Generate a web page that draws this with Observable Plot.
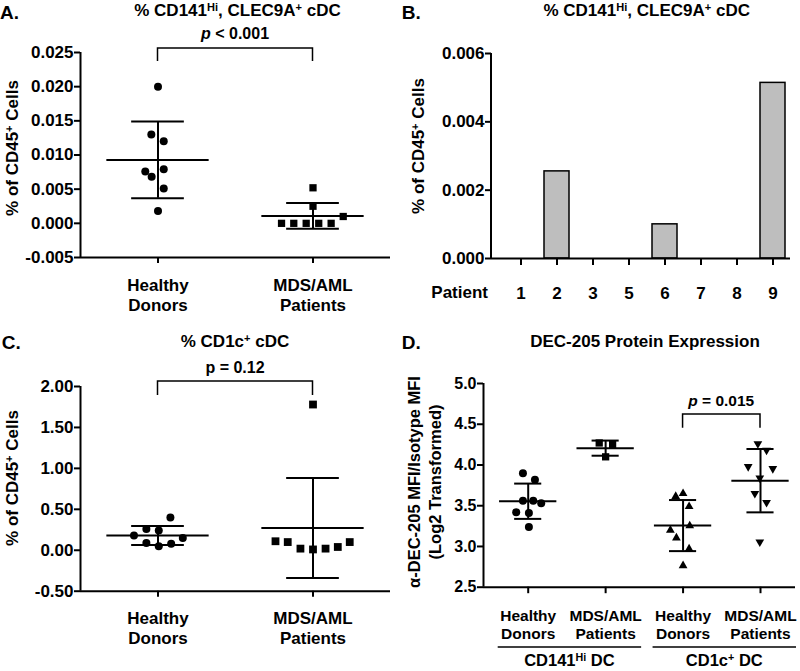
<!DOCTYPE html>
<html>
<head>
<meta charset="utf-8">
<script src="https://cdn.jsdelivr.net/npm/d3@7"></script>
<script src="https://cdn.jsdelivr.net/npm/@observablehq/plot@0.6"></script>
<style>
  body { margin: 0; background: #fff; }
  #fig { position: relative; width: 800px; height: 671px; background: #fff; }
</style>
</head>
<body>
<div id="fig"></div>
<script>
const FONT = '"Liberation Sans", Arial, Helvetica, sans-serif';

// ---------------- Panel A data ----------------
const groupLabelsAC = ["Healthy\nDonors", "MDS/AML\nPatients"];
const aTicks = [-0.005, 0, 0.005, 0.010, 0.015, 0.020, 0.025];
const aHealthy = [0.0200, 0.0130, 0.0120, 0.0076, 0.0068, 0.0079, 0.0051, 0.0018];
const aHealthyJitter = [0, -0.043, 0.037, -0.082, -0.041, 0.037, 0.037, 0];
const aPatients = [0.0052, 0.0025, 0.0010, 0, 0, 0, 0, 0];
const aPatientsJitter = [0, 0, 0.195, -0.203, -0.124, -0.044, 0.037, 0.117];

// ---------------- Panel B data ----------------
const bPatients = ["1", "2", "3", "5", "6", "7", "8", "9"];
const bValues = [0, 0.00255, 0, 0, 0.00100, 0, 0, 0.00514];
const bTicks = [0, 0.002, 0.004, 0.006];

// ---------------- Panel C data ----------------
const cTicks = [-0.5, 0, 0.5, 1, 1.5, 2];
const cHealthy = [0.40, 0.26, 0.24, 0.18, 0.15, 0.09, 0.08, 0.05];
const cHealthyJitter = [0.08, -0.075, 0.005, -0.155, 0.16, -0.075, 0.085, 0.005];
const cPatients = [1.78, 0.11, 0.10, 0.02, 0.01, 0.02, 0.04, 0.10];
const cPatientsJitter = [0, -0.242, -0.163, -0.081, 0, 0.081, 0.16, 0.237];

// ---------------- Panel D data ----------------
const dLabels = ["Healthy\nDonors", "MDS/AML\nPatients", "Healthy\nDonors", "MDS/AML\nPatients"];
const dTicks = [2.5, 3.0, 3.5, 4.0, 4.5, 5.0];
const d141Healthy = [3.90, 3.82, 3.56, 3.56, 3.53, 3.42, 3.41, 3.24];
const d141HealthyJitter = [-0.068, 0.087, -0.068, 0.065, 0.168, -0.155, 0.009, 0.009];
const d141Patients = [4.27, 4.25, 4.10];
const d141PatientsJitter = [-0.083, 0.09, 0];
const d1cHealthy = [3.65, 3.615, 3.49, 3.255, 3.20, 3.105, 2.97, 2.765];
const d1cHealthyJitter = [0, -0.095, 0.078, 0.086, -0.164, -0.086, 0.078, 0];
const d1cPatients = [4.26, 4.18, 3.98, 3.955, 3.84, 3.65, 3.54, 3.055];
const d1cPatientsJitter = [-0.034, 0.078, -0.159, 0.159, -0.009, -0.073, 0.078, -0.009];
const dCellTypes = ["CD141^{Hi} DC", "CD1c^{+} DC"];

// ---------------- helpers ----------------
const fig = document.getElementById("fig");
const baseStyle = {fontFamily: FONT, fontSize: "17px", fontWeight: "bold", color: "black", background: "white", overflow: "visible"};

const triangleDown = {
  draw(context, size) {
    const y = Math.sqrt(size / (3 * Math.sqrt(3)));
    context.moveTo(0, 2 * y);
    context.lineTo(Math.sqrt(3) * y, -y);
    context.lineTo(-Math.sqrt(3) * y, -y);
    context.closePath();
  }
};

function richText(parent, str, fs) {
  const text = parent.append("text");
  const parts = str.split(/(\^\{[^}]*\}|\*[^*]+\*)/).filter(s => s.length);
  let pending = 0;
  for (const p of parts) {
    const t = text.append("tspan");
    if (p.startsWith("^{")) {
      t.text(p.slice(2, -1)).attr("font-size", fs * 0.65).attr("dy", -0.3 * fs);
      pending = 0.3 * fs;
    } else {
      if (pending) { t.attr("dy", pending); pending = 0; }
      if (p.startsWith("*")) t.attr("font-style", "italic").text(p.slice(1, -1));
      else t.text(p);
    }
  }
  return text;
}
function label(g, str, x, y, fs, anchor = "middle", rotate = false) {
  const t = richText(g, str, fs).attr("font-size", fs).attr("text-anchor", anchor);
  if (rotate) t.attr("transform", `translate(${x},${y}) rotate(-90)`).attr("y", 0.36 * fs);
  else t.attr("x", x).attr("y", y + 0.36 * fs);
  return t;
}
function line(g, pts, w) {
  g.append("path").attr("d", d3.line()(pts)).attr("fill", "none").attr("stroke", "black").attr("stroke-width", w);
}
function annotations(fn) {
  return (index, scales) => {
    const g = d3.create("svg:g").attr("fill", "black").attr("font-weight", "bold").attr("font-family", FONT);
    fn(g, scales);
    return g.node();
  };
}
function scatterMarks(groups, meanHW, capHW) {
  const stats = groups.map(g => ({x: g.pos, mean: d3.mean(g.values), sd: d3.deviation(g.values)}));
  const lw = 2;
  return [
    Plot.ruleX(stats, {x: "x", y1: d => d.mean - d.sd, y2: d => d.mean + d.sd, strokeWidth: lw}),
    Plot.ruleY(stats, {y: "mean", x1: d => d.x - meanHW, x2: d => d.x + meanHW, strokeWidth: lw}),
    Plot.ruleY(stats, {y: d => d.mean + d.sd, x1: d => d.x - capHW, x2: d => d.x + capHW, strokeWidth: lw}),
    Plot.ruleY(stats, {y: d => d.mean - d.sd, x1: d => d.x - capHW, x2: d => d.x + capHW, strokeWidth: lw}),
    ...groups.map(g => Plot.dot(
      g.values.map((v, i) => ({x: g.pos + g.jitter[i], y: v})),
      {x: "x", y: "y", r: g.r, symbol: g.symbol, fill: "black"}
    ))
  ];
}
function place(svg, left, top) {
  svg.style.position = "absolute";
  svg.style.left = left + "px";
  svg.style.top = top + "px";
  fig.appendChild(svg);
}

// ---------------- Panel A ----------------
const plotA = Plot.plot({
  width: 400, height: 330,
  marginLeft: 80, marginRight: 10, marginTop: 52, marginBottom: 73,
  style: baseStyle,
  x: {domain: [0.5, 2.5], axis: null},
  y: {domain: [-0.005, 0.025], axis: null},
  marks: [
    Plot.axisY({ticks: aTicks, tickFormat: d => d.toFixed(3), tickSize: 6, tickPadding: 1, strokeWidth: 2, label: null}),
    Plot.axisX({ticks: [1, 2], tickFormat: i => groupLabelsAC[i - 1], tickSize: 6, tickPadding: 13, strokeWidth: 2, lineHeight: 1.18, label: null}),
    Plot.ruleX([0.5], {strokeWidth: 2}),
    Plot.ruleY([-0.005], {strokeWidth: 2}),
    ...scatterMarks([
      {pos: 1, values: aHealthy, jitter: aHealthyJitter, symbol: "circle", r: 4},
      {pos: 2, values: aPatients, jitter: aPatientsJitter, symbol: "square", r: 4.1}
    ], 0.33, 0.17),
    annotations((g, s) => {
      label(g, "A.", 0, 12, 19, "start");
      label(g, "% CD141^{Hi}, CLEC9A^{+} cDC", 237.5, 10, 17);
      label(g, "% of CD45^{+} Cells", 12, 148, 17, "middle", true);
      const x1 = s.x(1), x2 = s.x(2);
      line(g, [[x1, 61], [x1, 48], [x2, 48], [x2, 61]], 1.5);
      label(g, "*p* < 0.001", (x1 + x2) / 2, 33, 16);
    })
  ]
});
place(plotA, 0, 0);

// ---------------- Panel B ----------------
const plotB = Plot.plot({
  width: 400, height: 330,
  marginLeft: 91, marginRight: 10, marginTop: 53, marginBottom: 72,
  style: baseStyle,
  x: {type: "band", domain: bPatients, paddingInner: 0.3, paddingOuter: 0.2, align: 0.79, axis: null},
  y: {domain: [0, 0.006], axis: null},
  marks: [
    Plot.barY(bPatients.map((p, i) => ({patient: p, value: bValues[i]})),
      {x: "patient", y: "value", fill: "#bebebe", stroke: "black", strokeWidth: 1.5}),
    Plot.axisY({ticks: bTicks, tickFormat: d => d.toFixed(3), tickSize: 6, tickPadding: 1, strokeWidth: 2, label: null}),
    Plot.axisX({tickSize: 7, tickPadding: 21, strokeWidth: 2, label: null}),
    Plot.ruleY([0], {strokeWidth: 2}),
    annotations((g, s) => {
      line(g, [[91, s.y(0.006)], [91, s.y(0) + 1]], 2);
      label(g, "B.", 1.7, 12, 19, "start");
      label(g, "% CD141^{Hi}, CLEC9A^{+} cDC", 246.7, 10, 17);
      label(g, "% of CD45^{+} Cells", 18.3, 146, 17, "middle", true);
      label(g, "Patient", 88, s.y(0) + 34, 17, "end");
    })
  ]
});
place(plotB, 400, 0);

// ---------------- Panel C ----------------
const plotC = Plot.plot({
  width: 400, height: 341,
  marginLeft: 80, marginRight: 10, marginTop: 56, marginBottom: 80.3,
  style: baseStyle,
  x: {domain: [0.5, 2.5], axis: null},
  y: {domain: [-0.5, 2], axis: null},
  marks: [
    Plot.axisY({ticks: cTicks, tickFormat: d => d.toFixed(2), tickSize: 6, tickPadding: 1, strokeWidth: 2, label: null}),
    Plot.axisX({ticks: [1, 2], tickFormat: i => groupLabelsAC[i - 1], tickSize: 6, tickPadding: 13, strokeWidth: 2, lineHeight: 1.18, label: null}),
    Plot.ruleX([0.5], {strokeWidth: 2}),
    Plot.ruleY([-0.5], {strokeWidth: 2}),
    ...scatterMarks([
      {pos: 1, values: cHealthy, jitter: cHealthyJitter, symbol: "circle", r: 4},
      {pos: 2, values: cPatients, jitter: cPatientsJitter, symbol: "square", r: 4.4}
    ], 0.33, 0.17),
    annotations((g, s) => {
      label(g, "C.", 1.7, 12, 19, "start");
      label(g, "% CD1c^{+} cDC", 235, 10.5, 17);
      label(g, "% of CD45^{+} Cells", 11.7, 148, 17, "middle", true);
      const x1 = s.x(1), x2 = s.x(2);
      line(g, [[x1, 65], [x1, 51], [x2, 51], [x2, 65]], 1.5);
      label(g, "p = 0.12", (x1 + x2) / 2, 37.3, 16);
    })
  ]
});
place(plotC, 0, 330);

// ---------------- Panel D ----------------
const plotD = Plot.plot({
  width: 400, height: 341,
  marginLeft: 83, marginRight: 5, marginTop: 53, marginBottom: 84.3,
  style: baseStyle,
  x: {domain: [0.4227, 4.452], axis: null},
  y: {domain: [2.5, 5], axis: null},
  marks: [
    Plot.axisY({ticks: dTicks, tickFormat: d => d.toFixed(1), tickSize: 6, tickPadding: 1, strokeWidth: 2, fontSize: 16, label: null}),
    Plot.axisX({ticks: [1, 2, 3, 4], tickFormat: i => dLabels[i - 1], tickSize: 6.5, tickPadding: 14, strokeWidth: 2, fontSize: 15.5, lineHeight: 1.18, label: null}),
    Plot.ruleX([0.4227], {strokeWidth: 2}),
    Plot.ruleY([2.5], {strokeWidth: 2}),
    ...scatterMarks([
      {pos: 1, values: d141Healthy, jitter: d141HealthyJitter, symbol: "circle", r: 4},
      {pos: 2, values: d141Patients, jitter: d141PatientsJitter, symbol: "square", r: 4.1},
      {pos: 3, values: d1cHealthy, jitter: d1cHealthyJitter, symbol: "triangle", r: 3.25},
      {pos: 4, values: d1cPatients, jitter: d1cPatientsJitter, symbol: triangleDown, r: 3.25}
    ], 0.37, 0.175),
    annotations((g, s) => {
      label(g, "D.", 1.7, 12, 19, "start");
      label(g, "DEC-205 Protein Expression", 245, 10.5, 17);
      label(g, "\u03b1-DEC-205 MFI/Isotype MFI", 14.5, 152, 16.5, "middle", true);
      label(g, "(Log2 Transformed)", 35, 152, 16.5, "middle", true);
      const x3 = s.x(3), x4 = s.x(4);
      const top = s.y(5) + 31;
      line(g, [[x3, top + 13.7], [x3, top], [x4, top], [x4, top + 13.7]], 1.5);
      label(g, "*p* = 0.015", (x3 + x4) / 2, s.y(5) + 17, 15.5);
      dCellTypes.forEach((name, k) => {
        const a = s.x(2 * k + 1) - 30, b = s.x(2 * k + 2) + 36;
        line(g, [[a, 317], [b, 317]], 1.5);
        label(g, name, (a + b) / 2, 330.5, 16.5);
      });
    })
  ]
});
place(plotD, 400, 330);
</script>
</body>
</html>
